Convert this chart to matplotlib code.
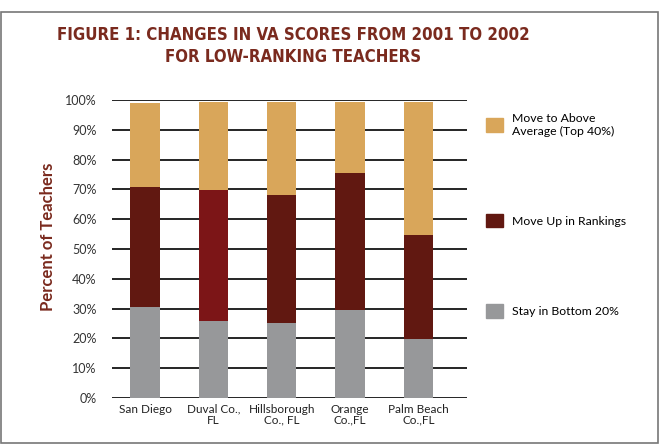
import numpy as np
import matplotlib.pyplot as plt
from matplotlib.patches import Patch, Rectangle
from matplotlib import font_manager

# data (percent of teachers)
districts = ["San Diego", "Duval Co.,\nFL", "Hillsborough\nCo., FL", "Orange\nCo.,FL", "Palm Beach\nCo.,FL"]
stay_bottom = [30.5, 26.0, 25.2, 29.5, 19.8]
move_up = [40.2, 43.8, 43.0, 46.0, 35.0]
above_avg = [28.2, 29.4, 31.0, 23.7, 44.4]

c_tan = "#D9A65A"
c_red = "#611811"
c_red_duval = "#7C1517"
c_gray = "#97989A"
c_title = "#7A2A1E"

plt.rcParams['font.family'] = ['Lato', 'DejaVu Sans']

# look for a condensed bold face for the title, else fall back to Lato
title_font = None
for f in font_manager.fontManager.ttflist:
    fn = f.fname.lower()
    if ("condensed" in fn or "narrow" in fn) and f.weight in ("bold", 700) and "oblique" not in fn and "italic" not in fn:
        title_font = f.fname
        break
if title_font:
    title_kw = dict(fontproperties=font_manager.FontProperties(fname=title_font, size=12.1))
else:
    title_kw = dict(fontsize=12, fontweight="bold", family=["Lato", "DejaVu Sans"])

fig = plt.figure(figsize=(6.63, 4.47), dpi=100)
ax = fig.add_axes([0.1685, 0.1096, 0.5355, 0.6667])

x = np.arange(len(districts))
width = 0.43
mid_colors = [c_red_duval if i == 1 else c_red for i in range(len(districts))]
bottom2 = np.array(stay_bottom) + np.array(move_up)
ax.bar(x, stay_bottom, width, color=c_gray, zorder=3)
ax.bar(x, move_up, width, bottom=stay_bottom, color=mid_colors, zorder=3)
ax.bar(x, above_avg, width, bottom=bottom2, color=c_tan, zorder=3)

ax.set_xlim(-0.49, 4.71)
ax.set_ylim(0, 100)
ax.set_yticks(np.arange(0, 101, 10))
ax.set_yticklabels(["{}%".format(v) for v in range(0, 101, 10)], fontsize=9, color="#333333")
ax.set_xticks(x)
ax.set_xticklabels(districts, fontsize=8.5, color="#222222", linespacing=1.0)
ax.tick_params(length=0)
ax.tick_params(axis='y', pad=11)
ax.tick_params(axis='x', pad=4)
ax.yaxis.grid(True, color="black", linewidth=1.2, zorder=1)
for s in ax.spines.values():
    s.set_visible(False)
ax.set_ylabel("Percent of Teachers", fontsize=12, fontweight="bold", color=c_title)
ax.yaxis.set_label_coords(-0.157, 0.54)

handles = [Patch(color=c_tan), Patch(color=c_red), Patch(color=c_gray)]
labels = ["Move to Above\nAverage (Top 40%)", "Move Up in Rankings", "Stay in Bottom 20%"]
fig.legend(handles, labels, loc="center left", bbox_to_anchor=(0.717, 0.518), frameon=False,
           fontsize=8.8, labelspacing=6.3, handlelength=1.35, handleheight=1.35, handletextpad=0.75)

fig.text(0.442, 0.897, "FIGURE 1: CHANGES IN VA SCORES FROM 2001 TO 2002\nFOR LOW-RANKING TEACHERS",
         ha="center", va="center", color=c_title, linespacing=1.3, **title_kw)

# border around the whole figure
fig.patches.append(Rectangle((0.002, 0.01), 0.99, 0.963, transform=fig.transFigure,
                             fill=False, edgecolor="#777777", linewidth=1.2))

fig.savefig("out.png", dpi=100)
